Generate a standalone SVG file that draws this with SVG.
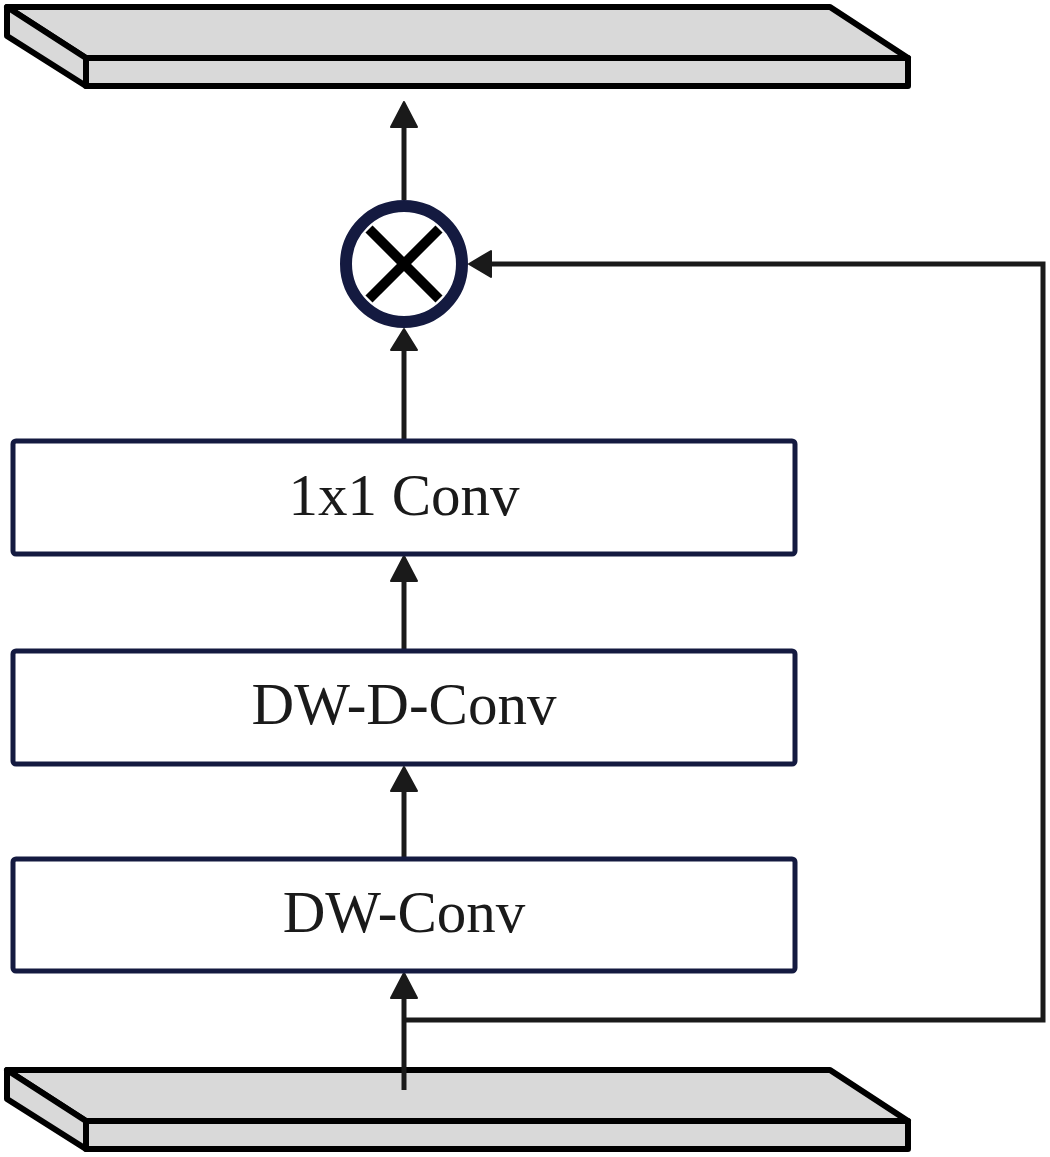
<svg xmlns="http://www.w3.org/2000/svg" width="1050" height="1157" viewBox="0 0 1050 1157">
<style>
.slab{fill:#d9d9d9;stroke:#000;stroke-width:6;stroke-linejoin:round}
.box{fill:#fff;stroke:#141a40;stroke-width:5}
.lbl{font-family:"Liberation Serif","Times New Roman",serif;font-size:59px;fill:#1a1a1a;text-anchor:middle}
.wire{fill:none;stroke:#1a1a1a;stroke-width:5}
.head{fill:#1a1a1a;stroke:#1a1a1a;stroke-width:2;stroke-linejoin:round}
</style>
<rect width="1050" height="1157" fill="#fff"/>
<g id="output-slab">
<polygon class="slab" points="7,7 830,7 908,58 86,58"/>
<rect class="slab" x="86" y="58" width="822" height="28"/>
<polygon class="slab" points="7,7 86,58 86,86 7,36"/>
</g>
<g id="input-slab">
<polygon class="slab" points="7,1070 830,1070 908,1121 86,1121"/>
<rect class="slab" x="86" y="1121" width="822" height="28"/>
<polygon class="slab" points="7,1070 86,1121 86,1149 7,1099"/>
</g>
<g id="connectors">
<line class="wire" x1="404" y1="200" x2="404" y2="126"/>
<polygon class="head" points="404,102 391,127 417,127"/>
<line class="wire" x1="404" y1="440" x2="404" y2="348"/>
<polygon class="head" points="404,329 391,350 417,350"/>
<line class="wire" x1="404" y1="650" x2="404" y2="580"/>
<polygon class="head" points="404,556 391,581 417,581"/>
<line class="wire" x1="404" y1="858" x2="404" y2="790"/>
<polygon class="head" points="404,767 391,791 417,791"/>
<line class="wire" x1="404" y1="1090" x2="404" y2="996"/>
<polygon class="head" points="404,973 391,998 417,998"/>
<polyline class="wire" points="404,1020 1043,1020 1043,264 490,264"/>
<polygon class="head" points="469,264 491,251 491,277"/>
</g>
<g id="multiply">
<circle cx="404" cy="264" r="58" fill="#fff" stroke="#141a40" stroke-width="12"/>
<line x1="369" y1="229" x2="439" y2="299" stroke="#000" stroke-width="10"/>
<line x1="439" y1="229" x2="369" y2="299" stroke="#000" stroke-width="10"/>
</g>
<g id="conv1x1">
<rect class="box" x="13" y="441" width="782" height="113" rx="3"/>
<text class="lbl" x="404" y="515">1x1 Conv</text>
</g>
<g id="dwdconv">
<rect class="box" x="13" y="651" width="782" height="113" rx="3"/>
<text class="lbl" x="404" y="724">DW-D-Conv</text>
</g>
<g id="dwconv">
<rect class="box" x="13" y="859" width="782" height="112" rx="3"/>
<text class="lbl" x="404" y="932">DW-Conv</text>
</g>
</svg>
